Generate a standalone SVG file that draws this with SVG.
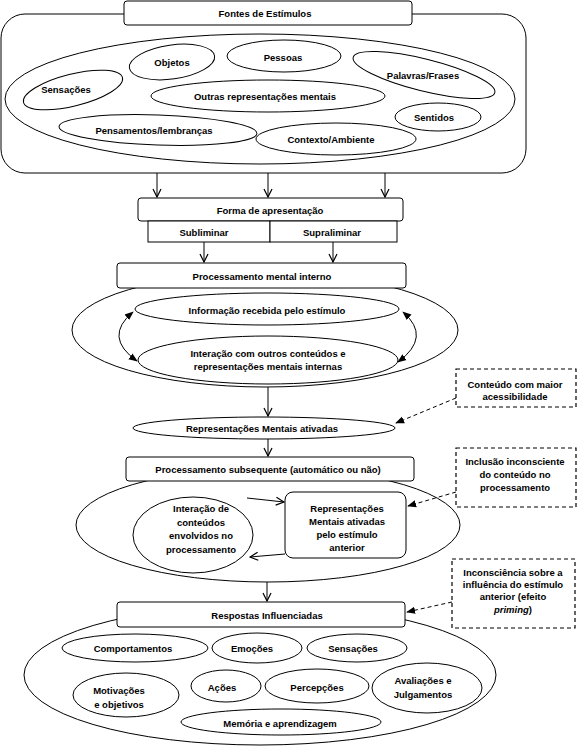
<svg xmlns="http://www.w3.org/2000/svg" width="579" height="747" viewBox="0 0 579 747">
<defs>
<style>
.s{fill:#fff;stroke:#000;stroke-width:1}
.n{fill:none;stroke:#000;stroke-width:1}
.d{fill:#fff;stroke:#000;stroke-width:1.2;stroke-dasharray:4,3}
.dl{fill:none;stroke:#000;stroke-width:1;stroke-dasharray:4,3}
text{font-family:"Liberation Sans",Arial,sans-serif;font-size:9.5px;font-weight:bold;text-anchor:middle;dominant-baseline:central;fill:#000}
</style>
<marker id="open" viewBox="0 0 10 10" refX="9" refY="5" markerWidth="10" markerHeight="10" markerUnits="userSpaceOnUse" orient="auto-start-reverse">
<path d="M1,1 L9,5 L1,9" fill="none" stroke="#000" stroke-width="1.2"/>
</marker>
<marker id="fill" viewBox="0 0 10 10" refX="9" refY="5" markerWidth="9" markerHeight="9" markerUnits="userSpaceOnUse" orient="auto-start-reverse">
<path d="M0,1 L10,5 L0,9 Z" fill="#000"/>
</marker>
</defs>
<rect width="579" height="747" fill="#fff"/>

<g id="fontes-container">
<rect class="s" x="1" y="14" width="525" height="159" rx="24"/>
<ellipse class="n" cx="260" cy="99" rx="255" ry="65"/>
</g>
<g id="fontes">
<rect class="s" x="124" y="1" width="288" height="24" rx="3"/>
<text x="265" y="13">Fontes de Estímulos</text>
</g>
<g id="sensacoes1"><ellipse class="n" cx="73" cy="90" rx="51" ry="16" transform="rotate(-14 73 90)"/><text x="66" y="89">Sensações</text></g>
<g id="objetos"><ellipse class="n" cx="172" cy="62" rx="43" ry="17" transform="rotate(-8 172 62)"/><text x="172" y="62">Objetos</text></g>
<g id="pessoas"><ellipse class="n" cx="284" cy="56" rx="57" ry="16"/><text x="283" y="57">Pessoas</text></g>
<g id="palavras"><ellipse class="n" cx="424" cy="75" rx="73" ry="16" transform="rotate(14 424 75)"/><text x="423" y="75">Palavras/Frases</text></g>
<g id="outras"><ellipse class="n" cx="268" cy="96" rx="117" ry="16"/><text x="265" y="96">Outras representações  mentais</text></g>
<g id="sentidos"><ellipse class="n" cx="438" cy="117" rx="43" ry="14"/><text x="434" y="117">Sentidos</text></g>
<g id="pensamentos"><ellipse class="n" cx="158" cy="130" rx="99" ry="15" transform="rotate(2 158 130)"/><text x="154" y="130">Pensamentos/lembranças</text></g>
<g id="contexto"><ellipse class="n" cx="336" cy="139" rx="80" ry="16"/><text x="331" y="139">Contexto/Ambiente</text></g>

<g id="forma">
<rect class="s" x="138" y="198" width="265" height="23" rx="3"/>
<text x="270" y="210">Forma de apresentação</text>
</g>
<g id="subliminar">
<rect class="s" x="148" y="221" width="122" height="21"/>
<text x="204" y="232">Subliminar</text>
</g>
<g id="supraliminar">
<rect class="s" x="270" y="221" width="127" height="21"/>
<text x="332" y="232">Supraliminar</text>
</g>

<g id="proc-container"><ellipse class="n" cx="265" cy="330" rx="193" ry="57"/></g>
<g id="proc-mental">
<rect class="s" x="117" y="263" width="289" height="25" rx="3"/>
<text x="262" y="276">Processamento mental interno</text>
</g>
<g id="informacao"><ellipse class="n" cx="267" cy="309" rx="132" ry="16"/><text x="267" y="310">Informação recebida pelo estímulo</text></g>
<g id="interacao1"><ellipse class="n" cx="268" cy="360" rx="130" ry="24"/><text x="268" y="353">Interação com outros conteúdos  e</text><text x="268" y="366">representações mentais internas</text></g>

<g id="rep-ativadas"><ellipse class="n" cx="264" cy="428" rx="131" ry="11"/><text x="262" y="428">Representações Mentais ativadas</text></g>

<g id="subseq-container"><ellipse class="n" cx="268" cy="525" rx="192" ry="57"/></g>
<g id="proc-subseq">
<rect class="s" x="126" y="457" width="288" height="24" rx="3"/>
<text x="268" y="469">Processamento subsequente  (automático ou não)</text>
</g>
<g id="interacao2"><ellipse class="n" cx="193" cy="535" rx="60" ry="38"/><text x="201" y="508">Interação de</text><text x="201" y="522">conteúdos</text><text x="201" y="535">envolvidos no</text><text x="201" y="549">processamento</text></g>
<g id="rep-anterior"><rect class="s" x="285" y="492" width="121" height="66" rx="8"/><text x="347" y="508">Representações</text><text x="347" y="521">Mentais ativadas</text><text x="347" y="534">pelo estímulo</text><text x="347" y="547">anterior</text></g>

<g id="respostas-container"><ellipse class="n" cx="260" cy="675" rx="236" ry="70"/></g>
<g id="respostas">
<rect class="s" x="117" y="602" width="288" height="25" rx="3"/>
<text x="267" y="615">Respostas Influenciadas</text>
</g>
<g id="comportamentos"><ellipse class="n" cx="135" cy="648" rx="73" ry="14"/><text x="133" y="648">Comportamentos</text></g>
<g id="emocoes"><ellipse class="n" cx="257" cy="648" rx="45" ry="15"/><text x="252" y="648">Emoções</text></g>
<g id="sensacoes2"><ellipse class="n" cx="357" cy="648" rx="50" ry="14"/><text x="353" y="648">Sensações</text></g>
<g id="motivacoes"><ellipse class="n" cx="126" cy="695" rx="53" ry="22"/><text x="119" y="690">Motivações</text><text x="119" y="704">e objetivos</text></g>
<g id="acoes"><ellipse class="n" cx="226" cy="686" rx="35" ry="16"/><text x="222" y="687">Ações</text></g>
<g id="percepcoes"><ellipse class="n" cx="317" cy="686" rx="52" ry="17"/><text x="317" y="687">Percepções</text></g>
<g id="avaliacoes"><ellipse class="n" cx="427" cy="688" rx="55" ry="25"/><text x="423" y="680">Avaliações e</text><text x="423" y="694">Julgamentos</text></g>
<g id="memoria"><ellipse class="n" cx="281" cy="722" rx="100" ry="13"/><text x="280" y="723">Memória e aprendizagem</text></g>

<g id="nota-acessibilidade"><rect class="d" x="456" y="369" width="120" height="38"/><text x="515" y="384">Conteúdo  com maior</text><text x="515" y="396">acessibilidade</text></g>
<g id="nota-inclusao"><rect class="d" x="456" y="448" width="120" height="59"/><text x="515" y="461">Inclusão inconsciente</text><text x="515" y="474">do conteúdo no</text><text x="515" y="487">processamento</text></g>
<g id="nota-priming"><rect class="d" x="452" y="559" width="123" height="69"/><text x="513" y="572">Inconsciência sobre a</text><text x="513" y="584">influência do estímulo</text><text x="513" y="596">anterior (efeito</text><text x="513" y="609"><tspan font-style="italic">priming</tspan>)</text></g>

<g id="connectors">
<line class="n" x1="157" y1="173" x2="157" y2="197" marker-end="url(#open)"/>
<line class="n" x1="268" y1="173" x2="268" y2="197" marker-end="url(#open)"/>
<line class="n" x1="385" y1="173" x2="385" y2="197" marker-end="url(#open)"/>
<line class="n" x1="204" y1="242" x2="204" y2="262" marker-end="url(#open)"/>
<line class="n" x1="333" y1="242" x2="333" y2="262" marker-end="url(#open)"/>
<path class="n" d="M133,312 Q103,337 137,361" marker-start="url(#fill)" marker-end="url(#fill)"/>
<path class="n" d="M403,312 Q432,337 398,362" marker-start="url(#fill)" marker-end="url(#fill)"/>
<line class="n" x1="268" y1="387" x2="268" y2="416" marker-end="url(#open)"/>
<line class="n" x1="268" y1="439" x2="268" y2="456" marker-end="url(#open)"/>
<line class="n" x1="247" y1="498" x2="284" y2="502" marker-end="url(#open)"/>
<line class="n" x1="285" y1="554" x2="250" y2="557" marker-end="url(#open)"/>
<line class="n" x1="267" y1="582" x2="267" y2="601" marker-end="url(#open)"/>
<line class="dl" x1="456" y1="398" x2="396" y2="423" marker-end="url(#fill)"/>
<line class="dl" x1="456" y1="492" x2="408" y2="506" marker-end="url(#fill)"/>
<line class="dl" x1="452" y1="602" x2="407" y2="612" marker-end="url(#fill)"/>
</g>
</svg>
